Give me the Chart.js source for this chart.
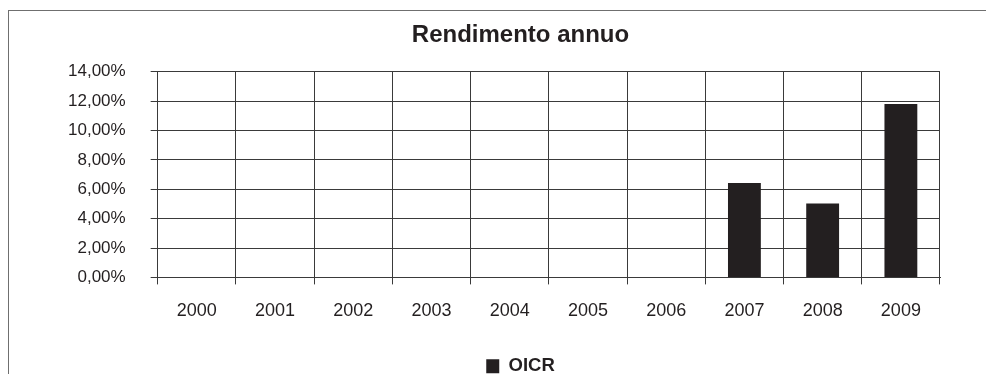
<!DOCTYPE html>
<html>
<head>
<meta charset="utf-8">
<script src="https://cdn.jsdelivr.net/npm/chart.js@4"></script>
<style>
  html, body { margin: 0; padding: 0; width: 986px; height: 374px; overflow: hidden; background: #fff; }
  #frame { position: absolute; left: 8px; top: 10px; width: 1000px; height: 400px; border: 1.5px solid #6f6f6f; box-sizing: border-box; }
  #wrap { position: absolute; left: 0; top: 0; width: 986px; height: 374px; }
</style>
</head>
<body>
<div id="frame"></div>
<div id="wrap"><canvas id="c" width="986" height="374"></canvas></div>
<script>
const categories = ['2000', '2001', '2002', '2003', '2004', '2005', '2006', '2007', '2008', '2009'];
const oicrValues = [null, null, null, null, null, null, null, 6.42, 5.03, 11.80];
const seriesName = 'OICR';
const chartTitle = 'Rendimento annuo';
const yMin = 0, yMax = 14, yStep = 2;

const FONT = '"Liberation Sans", Arial, Helvetica, sans-serif';
const INK = '#231f20';

// Shift title and legend so they are centred like in the reference
const blockShift = {
  id: 'blockShift',
  beforeDraw(chart) {
    const lg = chart.legend;
    if (lg && !lg._shifted) {
      lg.left += 29; lg.right += 29;
      lg.top += 13; lg.bottom += 13;
      lg._shifted = true;
    }
    const tb = chart.titleBlock;
    if (tb && !tb._shifted) {
      tb.left += 29; tb.right += 29;
      tb._shifted = true;
    }
  },
  afterUpdate(chart) {
    if (chart.legend) chart.legend._shifted = false;
    if (chart.titleBlock) chart.titleBlock._shifted = false;
  }
};

new Chart(document.getElementById('c'), {
  type: 'bar',
  data: {
    labels: categories,
    datasets: [{
      label: seriesName,
      data: oicrValues,
      backgroundColor: INK,
      borderColor: INK,
      borderWidth: 0,
      barPercentage: 0.42,
      categoryPercentage: 1.0
    }]
  },
  plugins: [blockShift],
  options: {
    responsive: false,
    animation: false,
    devicePixelRatio: 1,
    layout: { padding: { left: 43, right: 46, top: 8, bottom: 1.5 } },
    plugins: {
      title: {
        display: true,
        text: chartTitle,
        color: INK,
        font: { family: FONT, size: 24, weight: 'bold' },
        padding: { top: 13, bottom: 22 }
      },
      legend: {
        display: true,
        position: 'bottom',
        labels: {
          color: INK,
          font: { family: FONT, size: 18.5, weight: 'bold' },
          boxWidth: 13,
          boxHeight: 14,
          padding: 6
        }
      },
      tooltip: { enabled: false }
    },
    scales: {
      x: {
        grid: { display: true, offset: true, color: '#3a3a3a', lineWidth: 1, tickLength: 7, drawTicks: true },
        border: { display: true, color: '#3a3a3a' },
        ticks: { color: INK, font: { family: FONT, size: 18 }, padding: 16, maxRotation: 0 }
      },
      y: {
        min: yMin,
        max: yMax,
        grid: { color: '#3a3a3a', lineWidth: 1, tickLength: 7, drawTicks: true },
        border: { display: true, color: '#3a3a3a' },
        ticks: {
          stepSize: yStep,
          color: INK,
          font: { family: FONT, size: 17 },
          padding: 25,
          callback: v => v.toFixed(2).replace('.', ',') + '%'
        }
      }
    }
  }
});
</script>
</body>
</html>
